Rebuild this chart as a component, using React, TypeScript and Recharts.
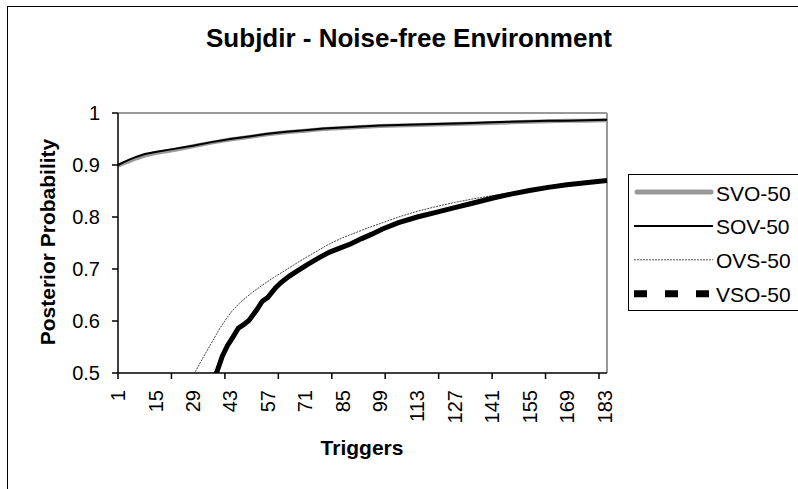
import React from 'react';
import { LineChart, Line, XAxis, YAxis, Legend, ReferenceLine } from 'recharts';

// readings taken off the original Excel chart
const seriesNames = ['SVO-50', 'SOV-50', 'OVS-50', 'VSO-50'];

const topTriggers = [1, 3, 5, 8, 11, 15, 22, 29, 36, 43, 50, 57, 64, 71, 78, 85, 92, 99, 106, 113, 120, 127, 134, 141, 148, 155, 162, 169, 176, 184];
const svoValues = [0.899, 0.903, 0.907, 0.913, 0.918, 0.923, 0.929, 0.936, 0.943, 0.949, 0.954, 0.959, 0.963, 0.966, 0.969, 0.971, 0.973, 0.975, 0.976, 0.977, 0.978, 0.979, 0.98, 0.981, 0.982, 0.983, 0.984, 0.985, 0.985, 0.986];
const sovValues = [0.9, 0.905, 0.91, 0.916, 0.921, 0.925, 0.931, 0.937, 0.944, 0.95, 0.955, 0.96, 0.964, 0.967, 0.97, 0.972, 0.974, 0.976, 0.977, 0.978, 0.979, 0.98, 0.981, 0.982, 0.983, 0.984, 0.985, 0.985, 0.986, 0.987];

const ovsTriggers = [27, 29, 30, 32, 34, 36, 39, 42, 44, 47, 51, 55, 60, 65, 70, 75, 80, 85, 90, 95, 100, 106, 113, 120, 127, 134, 141, 148, 155, 162, 169, 176, 184];
const ovsValues = [0.485, 0.497, 0.503, 0.522, 0.54, 0.558, 0.585, 0.608, 0.621, 0.637, 0.654, 0.669, 0.686, 0.702, 0.718, 0.733, 0.748, 0.76, 0.77, 0.78, 0.789, 0.8, 0.811, 0.82, 0.828, 0.835, 0.841, 0.847, 0.852, 0.857, 0.862, 0.866, 0.871];

const vsoTriggers = [35, 37, 38, 40, 42, 44, 46, 48, 50, 53, 55, 57, 60, 62, 65, 68, 72, 76, 80, 84, 88, 92, 96, 100, 106, 113, 120, 127, 134, 141, 148, 155, 162, 169, 176, 184];
const vsoValues = [0.48, 0.494, 0.502, 0.532, 0.553, 0.569, 0.586, 0.593, 0.601, 0.622, 0.638, 0.645, 0.664, 0.674, 0.686, 0.696, 0.709, 0.721, 0.732, 0.74, 0.748, 0.758, 0.767, 0.777, 0.789, 0.8, 0.809, 0.818, 0.827, 0.836, 0.844, 0.851, 0.857, 0.862, 0.866, 0.87];

const labelTicks = [1, 15, 29, 43, 57, 71, 85, 99, 113, 127, 141, 155, 169, 183];
const markTicks = [1, 21, 41, 61, 81, 101, 121, 141, 161, 181];
const yTicks = [0.5, 0.6, 0.7, 0.8, 0.9, 1];

const zip = (xs: number[], vs: number[]) => xs.map((x, i) => ({ x, v: vs[i] }));

const FONT = '"Liberation Sans", Arial, sans-serif';
const TICK_SIZE = 6;
const TICK_MARGIN = 11;

const allXTicks = Array.from(new Set([...labelTicks, ...markTicks])).sort((a, b) => a - b);

const XTick = (props: any) => {
  const { x, y, payload } = props;
  const v = payload.value;
  return (
    <g>
      {markTicks.includes(v) && (
        <line x1={x} x2={x} y1={y - TICK_MARGIN - TICK_SIZE} y2={y - TICK_MARGIN} stroke="#000" strokeWidth={1.5} />
      )}
      {labelTicks.includes(v) && (
        <text transform={`translate(${x},${y}) rotate(-90)`} textAnchor="end" dy="0.36em" fontSize={20} fill="#000" fontFamily={FONT}>
          {v}
        </text>
      )}
    </g>
  );
};

const legendStyles = [
  { stroke: '#999999', width: 5, dash: undefined, cap: 'round' },
  { stroke: '#000000', width: 2, dash: undefined, cap: 'butt' },
  { stroke: '#555555', width: 1, dash: '2 1', cap: 'butt' },
  { stroke: '#000000', width: 7, dash: '13 18', cap: 'butt' },
];

const LegendBox = () => (
  <div style={{ width: 200, height: 137, border: '1px solid #000', background: '#fff', boxSizing: 'border-box' }}>
    <svg width={198} height={135}>
      {seriesNames.map((name, i) => {
        const cy = 18 + i * 33.9;
        const s = legendStyles[i];
        return (
          <g key={name}>
            <line x1={s.cap === 'round' ? 8 : 5} x2={s.cap === 'round' ? 82 : 84} y1={cy - 1} y2={cy - 1} stroke={s.stroke} strokeWidth={s.width} strokeDasharray={s.dash} strokeLinecap={s.cap as any} />
            <text x={87} y={cy} dominantBaseline="central" fontSize={21} fontFamily={FONT} fill="#000">{name}</text>
          </g>
        );
      })}
    </svg>
  </div>
);

export default function App() {
  return (
    <div style={{ position: 'absolute', left: 0, top: 0, width: 798, height: 489, overflow: 'hidden', background: '#fff', fontFamily: FONT }}>
      <div style={{ position: 'absolute', left: 7, top: 6, width: 900, height: 600, border: '1px solid #000' }} />
      <div style={{ position: 'absolute', left: 409, top: 25, transform: 'translateX(-50%)', whiteSpace: 'nowrap', fontSize: 26, lineHeight: '26px', fontWeight: 'bold', color: '#000' }}>
        Subjdir - Noise-free Environment
      </div>
      <div style={{ position: 'absolute', left: 362, top: 437, transform: 'translateX(-50%)', whiteSpace: 'nowrap', fontSize: 21, lineHeight: '21px', fontWeight: 'bold', color: '#000' }}>
        Triggers
      </div>
      <div style={{ position: 'absolute', left: 47, top: 242, transform: 'translate(-50%, -50%) rotate(-90deg)', whiteSpace: 'nowrap', fontSize: 21, lineHeight: '21px', fontWeight: 'bold', color: '#000' }}>
        Posterior Probability
      </div>
      <div style={{ position: 'absolute', left: 0, top: 0 }}>
        <LineChart width={798} height={489} margin={{ top: 113, right: 191, bottom: 56, left: 58 }}>
          <XAxis
            dataKey="x"
            type="number"
            domain={[1, 184]}
            ticks={allXTicks}
            interval={0}
            height={60}
            tickLine={false}
            tickSize={TICK_SIZE}
            tickMargin={TICK_MARGIN}
            tick={<XTick />}
            axisLine={{ stroke: '#000', strokeWidth: 1.5 }}
          />
          <YAxis
            type="number"
            domain={[0.5, 1]}
            ticks={yTicks}
            allowDataOverflow
            width={60}
            tickSize={TICK_SIZE}
            tickMargin={12}
            tick={{ fontSize: 20, fill: '#000', fontFamily: FONT }}
            tickLine={{ stroke: '#000', strokeWidth: 1.5 }}
            axisLine={{ stroke: '#000', strokeWidth: 1.5 }}
          />
          <ReferenceLine y={1} stroke="#999" strokeWidth={2} />
          <ReferenceLine x={184} stroke="#999" strokeWidth={2} />
          <Legend layout="vertical" align="center" verticalAlign="middle" content={<LegendBox />} wrapperStyle={{ left: 628, top: 174, width: 200 }} />
          <Line data={zip(topTriggers, svoValues)} dataKey="v" name={seriesNames[0]} type="linear" stroke="#999999" strokeWidth={4} dot={false} isAnimationActive={false} />
          <Line data={zip(topTriggers, sovValues)} dataKey="v" name={seriesNames[1]} type="linear" stroke="#000" strokeWidth={2} dot={false} isAnimationActive={false} />
          <Line data={zip(ovsTriggers, ovsValues)} dataKey="v" name={seriesNames[2]} type="linear" stroke="#444" strokeWidth={1} strokeDasharray="2 1" dot={false} isAnimationActive={false} />
          <Line data={zip(vsoTriggers, vsoValues)} dataKey="v" name={seriesNames[3]} type="linear" stroke="#000" strokeWidth={5} dot={false} isAnimationActive={false} />
        </LineChart>
      </div>
    </div>
  );
}
